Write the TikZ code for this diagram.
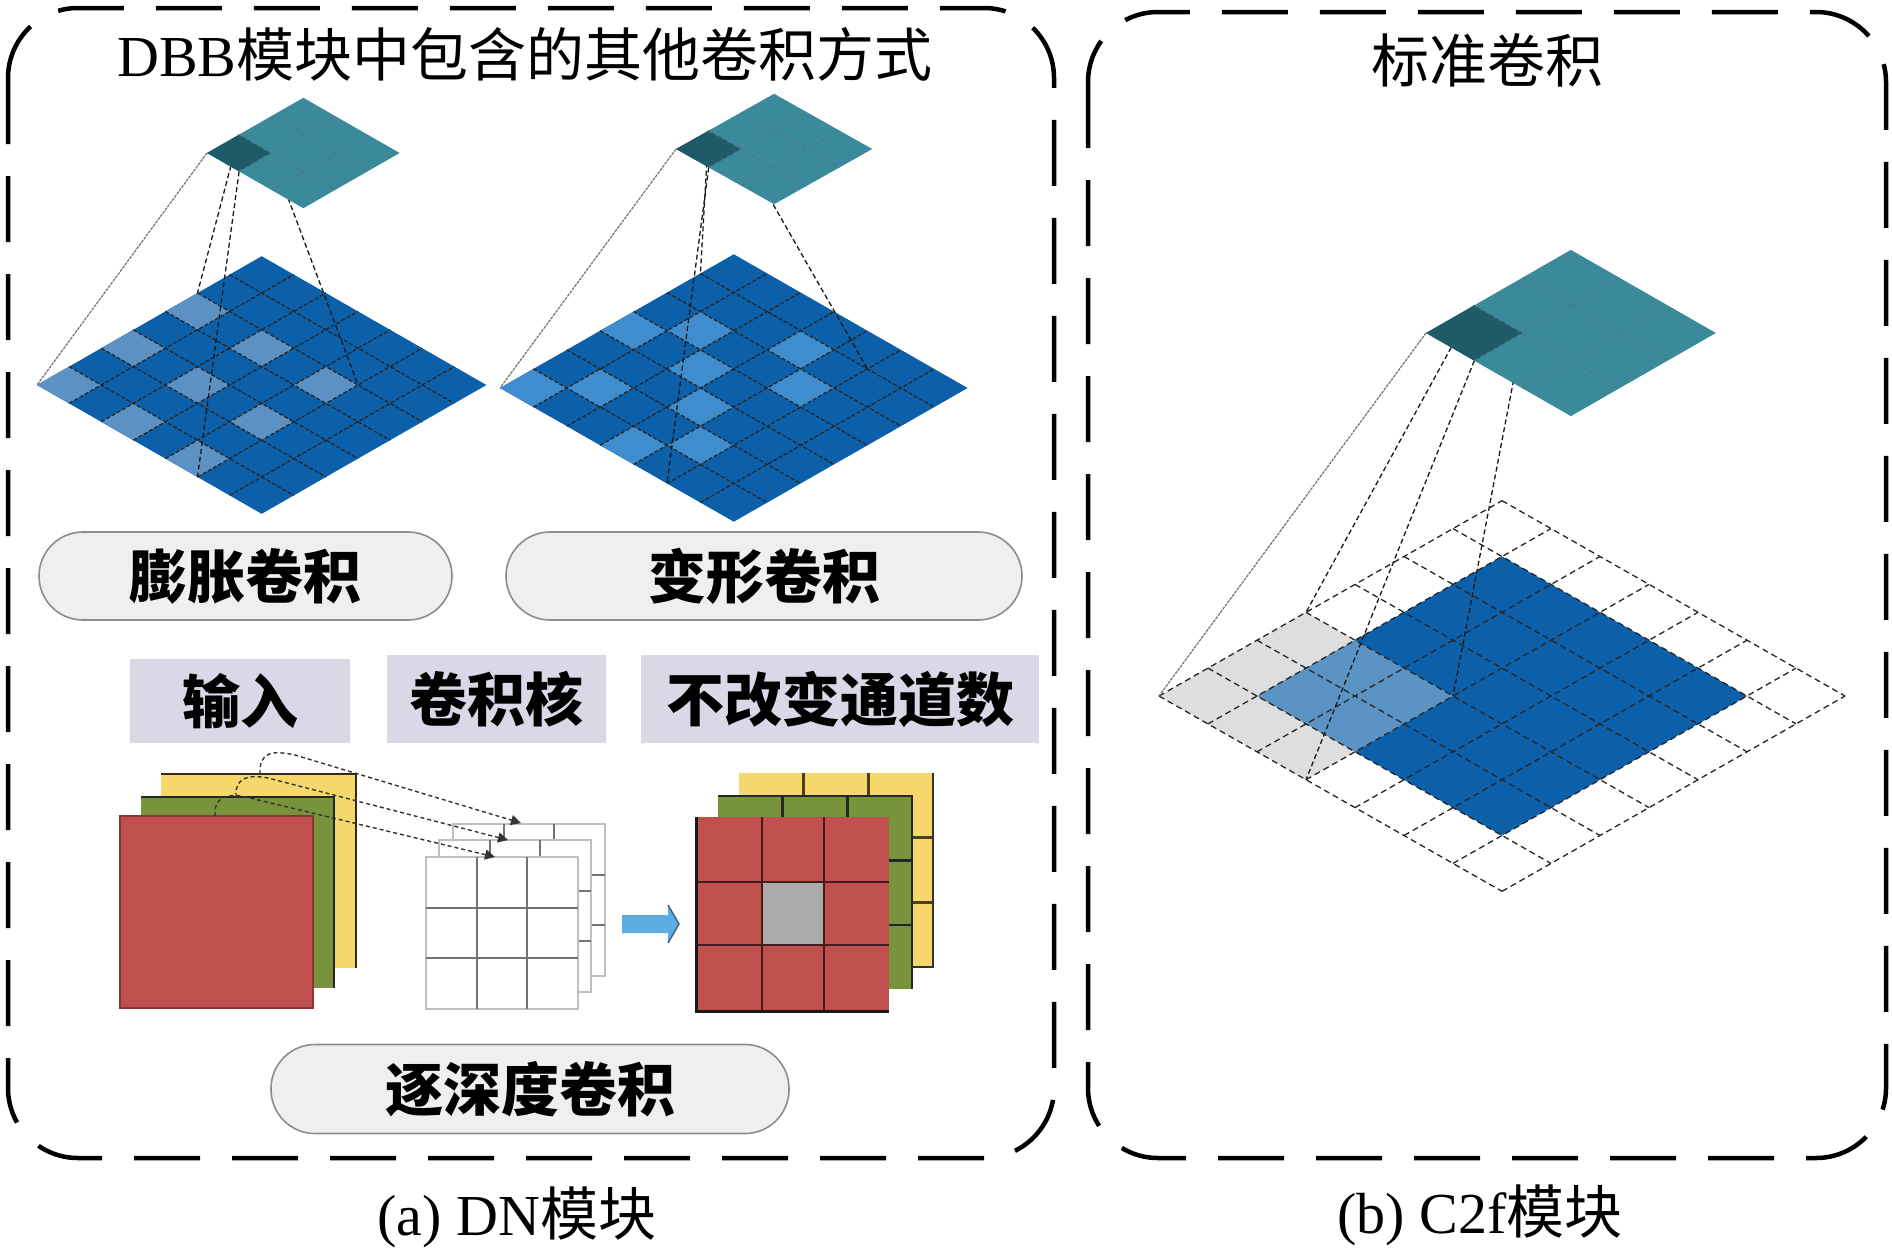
\documentclass[tikz,border=0pt]{standalone}
\usepackage{fontspec}
\setmainfont{Liberation Serif}
\newfontfamily\cjk{Noto Sans CJK SC}
\usetikzlibrary{arrows.meta}
\definecolor{cblue}{HTML}{0C5FA9}
\definecolor{clightdil}{HTML}{5B91C3}
\definecolor{clightdef}{HTML}{3F8DCF}
\definecolor{clightstd}{HTML}{5A93C4}
\definecolor{cteal}{HTML}{3A8A9C}
\definecolor{cdteal}{HTML}{1E5A68}
\definecolor{cpad}{HTML}{DEDEDE}
\definecolor{cpill}{HTML}{EFEFEF}
\definecolor{clav}{HTML}{DCD7E6}
\definecolor{cred}{HTML}{C0504D}
\definecolor{cgreen}{HTML}{77933C}
\definecolor{cyellow}{HTML}{F6D76C}
\definecolor{carrow}{HTML}{5DADE2}
\newcommand{\pcell}[3]{\fill[#3] (#1,#2) -- ++(1,0) -- ++(0,1) -- ++(-1,0) -- cycle;}
\tikzset{
  frame/.style={draw=black, line width=4.5pt, dash pattern=on 66pt off 32pt, rounded corners=70pt},
  bigtext/.style={font=\fontsize{58}{62}\selectfont, inner sep=0pt},
  pill/.style={draw=black!45, line width=1.6pt, fill=cpill, rounded corners=44pt, inner sep=0pt, font=\fontsize{58}{62}\selectfont\cjk\bfseries},
  lav/.style={fill=clav, inner sep=0pt, font=\fontsize{58}{62}\selectfont\cjk\bfseries},
  bgrid/.style={draw=black!85, line width=1.3pt, dash pattern=on 4pt off 2pt},
  tgrid/.style={draw=cdteal!80, line width=1.2pt, dash pattern=on 4pt off 3pt},
  pgrid/.style={draw=black!85, line width=1.3pt, dash pattern=on 6pt off 4pt},
  conn/.style={draw=black!90, line width=1.3pt, dash pattern=on 5pt off 3pt},
  sconn/.style={draw=black!55, line width=1.2pt, dash pattern=on 3pt off 1pt},
  carc/.style={draw=black!80, line width=1.4pt, dash pattern=on 4pt off 3pt, -{Triangle[length=10pt,width=10pt]}},
  kgrid/.style={draw=black!55, line width=2pt},
  kframe/.style={draw=black!25, line width=2.5pt, fill=white},
}
\begin{document}
\begin{tikzpicture}[x=1pt,y=-1pt]
\useasboundingbox (0,0) rectangle (1892,1248);
\fill[white] (0,0) rectangle (1892,1248);

% ---------- frames ----------
\draw[frame] (8,8) rectangle (1054,1158);
\draw[frame] (1088,12) rectangle (1886,1158);

% ---------- titles and captions ----------
\node[bigtext] (title) at (525,54) {DBB{\cjk 模块中包含的其他卷积方式}};
\node[bigtext] (titleR) at (1487,60) {\cjk 标准卷积};
\node[bigtext] (capA) at (517,1217) {(a) DN{\cjk 模块}};
\node[bigtext] (capB) at (1480,1215) {(b) C2f{\cjk 模块}};

% ========== Dilated convolution ==========
\begin{scope}[shift={(207,153)}, x={(32.1pt,18.4pt)}, y={(32.1pt,-18.4pt)}]
  \coordinate (dL) at (0,0); \coordinate (dT) at (1,0);
  \coordinate (dR) at (1,1); \coordinate (dB) at (0,1);
\end{scope}
\begin{scope}[shift={(37,385)}, x={(32.1pt,18.4pt)}, y={(32.1pt,-18.4pt)}]
  \fill[cblue] (0,0) -- (7,0) -- (7,7) -- (0,7) -- cycle;
  \foreach \i/\j in {0/0,2/0,4/0,0/2,2/2,4/2,0/4,2/4,4/4} {\pcell{\i}{\j}{clightdil}}
  \foreach \k in {1,...,6} {\draw[bgrid] (\k,0) -- (\k,7); \draw[bgrid] (0,\k) -- (7,\k);}
  \coordinate (DL) at (0,0); \coordinate (DT) at (5,0);
  \coordinate (DR) at (5,5); \coordinate (DB) at (0,5);
\end{scope}
\draw[sconn] (dL) -- (DL);
\draw[conn] (dT) -- (DT);
\draw[conn] (dR) -- (DR);
\draw[conn] (dB) -- (DB);
\begin{scope}[shift={(207,153)}, x={(32.1pt,18.4pt)}, y={(32.1pt,-18.4pt)}]
  \fill[cteal] (0,0) -- (3,0) -- (3,3) -- (0,3) -- cycle;
  \pcell{0}{0}{cdteal}
  \foreach \k in {1,2} {\draw[tgrid] (\k,0) -- (\k,3); \draw[tgrid] (0,\k) -- (3,\k);}
\end{scope}

% ========== Deformable convolution ==========
\begin{scope}[shift={(676,149)}, x={(32.7pt,18.4pt)}, y={(32.7pt,-18.4pt)}]
  \coordinate (fL) at (0,0); \coordinate (fT) at (1,0);
  \coordinate (fR) at (1,1); \coordinate (fB) at (0,1);
\end{scope}
\begin{scope}[shift={(500,388)}, x={(33.4pt,19.1pt)}, y={(33.4pt,-19.1pt)}]
  \fill[cblue] (0,0) -- (7,0) -- (7,7) -- (0,7) -- cycle;
  \foreach \i/\j in {0/0,3/0,4/1,1/1,3/2,5/3,4/4,2/3,0/3,1/4} {\pcell{\i}{\j}{clightdef}}
  \foreach \k in {1,...,6} {\draw[bgrid] (\k,0) -- (\k,7); \draw[bgrid] (0,\k) -- (7,\k);}
  \coordinate (FL) at (0,0); \coordinate (FT) at (6,0);
  \coordinate (FR) at (6,5); \coordinate (FB) at (0,5);
\end{scope}
\draw[sconn] (fL) -- (FL);
\draw[conn] (fT) -- (FT);
\draw[conn] (fR) -- (FR);
\draw[conn] (fB) -- (FB);
\begin{scope}[shift={(676,149)}, x={(32.7pt,18.4pt)}, y={(32.7pt,-18.4pt)}]
  \fill[cteal] (0,0) -- (3,0) -- (3,3) -- (0,3) -- cycle;
  \pcell{0}{0}{cdteal}
  \foreach \k in {1,2} {\draw[tgrid] (\k,0) -- (\k,3); \draw[tgrid] (0,\k) -- (3,\k);}
\end{scope}

% ---------- pills ----------
\node[pill, minimum width=413pt, minimum height=88pt] (pdil) at (245.5,576) {膨胀卷积};
\node[pill, minimum width=516pt, minimum height=88pt] (pdef) at (764,576) {变形卷积};

% ---------- lavender labels ----------
\node[lav, minimum width=220pt, minimum height=84pt] (lin) at (240,701) {输入};
\node[lav, minimum width=219pt, minimum height=88pt] (lker) at (496.5,699) {卷积核};
\node[lav, minimum width=398pt, minimum height=88pt] (lout) at (840,699) {不改变通道数};

% ---------- input stack ----------
\fill[cyellow] (161,774) rectangle (356,968);
\draw[draw=black!80!cyellow, line width=2.2pt] (161,774) -- (356,774) -- (356,968);
\fill[cgreen] (141,797) rectangle (334,988);
\draw[draw=black!85, line width=2.4pt] (141,797) -- (334,797) -- (334,988);
\fill[cred] (120,816) rectangle (313,1008);
\draw[draw=cred!70!black, line width=2pt] (120,816) rectangle (313,1008);

% ---------- kernel stack ----------
\foreach \x/\y in {453/824, 439/840, 426/857} {
  \draw[kframe] (\x,\y) rectangle ++(152,152);
  \foreach \k in {1,2} {
    \draw[kgrid] (\x+\k*50.7,\y) -- (\x+\k*50.7,\y+152);
    \draw[kgrid] (\x,\y+\k*50.7) -- (\x+152,\y+\k*50.7);
  }
}

% ---------- dashed arcs ----------
\coordinate (a1s) at (260,774); \coordinate (a1e) at (521,823);
\coordinate (a2s) at (236,797); \coordinate (a2e) at (508,840);
\coordinate (a3s) at (215,816); \coordinate (a3e) at (495,857);
\draw[carc] (a1s) .. controls (259,752) and (272,750) .. (295,755) -- (a1e);
\draw[carc] (a2s) .. controls (235,778) and (247,774) .. (268,778) -- (a2e);
\draw[carc] (a3s) .. controls (214,797) and (226,793) .. (246,797) -- (a3e);

% ---------- block arrow ----------
\fill[carrow] (622,915) -- (668,915) -- (668,905) -- (679,924) -- (668,943) -- (668,933) -- (622,933) -- cycle;
\draw[draw=carrow!60!black, line width=1.5pt] (668,905) -- (679,924) -- (668,943);

% ---------- output stack ----------
\fill[cyellow] (739,773) rectangle (933,967);
\foreach \k in {1,2} {
  \draw[draw=black!70!cyellow, line width=2.5pt] (739+\k*64.7,773) -- (739+\k*64.7,967);
  \draw[draw=black!70!cyellow, line width=2.5pt] (739,773+\k*64.7) -- (933,773+\k*64.7);
}
\draw[draw=black!80, line width=2.5pt] (933,773) -- (933,967) -- (913,967);
\fill[cgreen] (718,796) rectangle (912,989);
\foreach \k in {1,2} {
  \draw[draw=black!85, line width=2.5pt] (718+\k*64.7,796) -- (718+\k*64.7,989);
  \draw[draw=black!85, line width=2.5pt] (718,796+\k*64.4) -- (912,796+\k*64.4);
}
\draw[draw=black!85, line width=2.5pt] (718,796) -- (912,796) -- (912,989);
\fill[cred] (696,817) rectangle (889,1011);
\fill[black!33] (762,882) rectangle (824,945);
\foreach \k in {762,824} {\draw[draw=cred!35!black, line width=2.5pt] (\k,817) -- (\k,1011);}
\foreach \k in {882,945} {\draw[draw=cred!35!black, line width=2.5pt] (696,\k) -- (889,\k);}
\draw[draw=black!90, line width=3pt] (696,817) -- (696,1011) -- (889,1011);

\node[pill, minimum width=518pt, minimum height=89pt] (pdw) at (530,1089) {逐深度卷积};

% ========== Standard convolution ==========
\begin{scope}[shift={(1426,333)}, x={(48.3pt,27.7pt)}, y={(48.3pt,-27.7pt)}]
  \coordinate (sL) at (0,0); \coordinate (sT) at (1,0);
  \coordinate (sR) at (1,1); \coordinate (sB) at (0,1);
\end{scope}
\begin{scope}[shift={(1159,696)}, x={(49pt,27.9pt)}, y={(49pt,-27.9pt)}]
  \fill[cblue] (1,1) -- (6,1) -- (6,6) -- (1,6) -- cycle;
  \foreach \i/\j in {0/0,1/0,2/0,0/1,0/2} {\pcell{\i}{\j}{cpad}}
  \foreach \i/\j in {1/1,2/1,1/2,2/2} {\pcell{\i}{\j}{clightstd}}
  \foreach \k in {0,...,7} {\draw[pgrid] (\k,0) -- (\k,7); \draw[pgrid] (0,\k) -- (7,\k);}
  \coordinate (SL) at (0,0); \coordinate (ST) at (3,0);
  \coordinate (SR) at (3,3); \coordinate (SB) at (0,3);
\end{scope}
\draw[sconn] (sL) -- (SL);
\draw[conn] (sT) -- (ST);
\draw[conn] (sR) -- (SR);
\draw[conn] (sB) -- (SB);
\begin{scope}[shift={(1426,333)}, x={(48.3pt,27.7pt)}, y={(48.3pt,-27.7pt)}]
  \fill[cteal] (0,0) -- (3,0) -- (3,3) -- (0,3) -- cycle;
  \pcell{0}{0}{cdteal}
  \foreach \k in {1,2} {\draw[tgrid] (\k,0) -- (\k,3); \draw[tgrid] (0,\k) -- (3,\k);}
\end{scope}
\end{tikzpicture}
\end{document}
